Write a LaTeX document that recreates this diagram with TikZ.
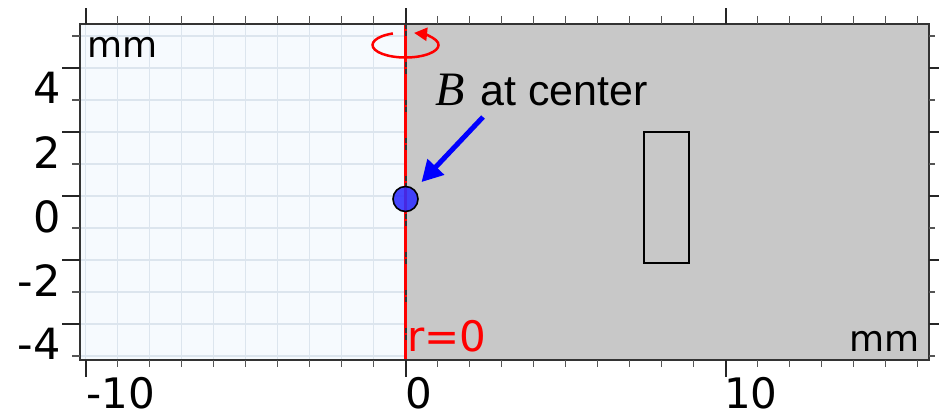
\documentclass[tikz,border=0pt]{standalone}
\usepackage{fontspec}
\setmainfont{DejaVu Sans}
\newfontfamily\arialfont{Liberation Sans}
\newfontfamily\serffont{Liberation Serif}
\usetikzlibrary{arrows.meta}
\definecolor{gridc}{HTML}{DCE5EE}
\definecolor{bgc}{HTML}{F6FAFE}
\definecolor{domc}{HTML}{C8C8C8}
\definecolor{framec}{HTML}{333333}
\definecolor{minorc}{HTML}{555555}
\definecolor{bluec}{HTML}{0000FF}
\definecolor{circc}{HTML}{2E2EFF}
\definecolor{redc}{HTML}{FF0000}
\begin{document}
\begin{tikzpicture}[x=1bp,y=-1bp,
  gridline/.style={draw=gridc, line width=1.3bp},
  framebox/.style={draw=framec, line width=2bp},
  majortick/.style={draw=black!85, line width=2bp},
  minortick/.style={draw=minorc, line width=1.1bp},
  axlab/.style={inner sep=0pt, font=\fontsize{43bp}{48bp}\selectfont},
  xlab/.style={inner sep=0pt, font=\fontsize{42bp}{46bp}\selectfont},
  unitlab/.style={inner sep=0pt, anchor=base west, font=\fontsize{36bp}{40bp}\selectfont},
  redlab/.style={inner sep=0pt, anchor=base west, text=redc, font=\fontsize{42bp}{46bp}\selectfont},
  bluearrow/.style={draw=bluec, line width=5bp, -{Triangle[length=21bp,width=22bp]}, shorten >=10bp},
  redarc/.style={draw=redc, line width=2.5bp, -{Triangle[length=13bp,width=13bp]}},
  bcirc/.style={circle, minimum size=25bp, inner sep=0pt, fill=circc, fill opacity=0.88, draw=black, draw opacity=1, line width=1.6bp},
  coil/.style={draw=black, line width=1.6bp}
]
\useasboundingbox (0,0) rectangle (939,417);
% left (light) region with grid
\fill[bgc] (80,23.5) rectangle (405.5,360);
\foreach \i in {1,...,10} \draw[gridline] ({405.5-32*\i},23.5) -- ({405.5-32*\i},360);
\foreach \j in {-5,...,5} \draw[gridline] (80,{196-32*\j}) -- (405.5,{196-32*\j});
% grey domain
\fill[domc] (405.5,23.5) rectangle (929,360);
% coil cross-section
\draw[coil] (644,132) rectangle (689,263);
% symmetry axis r=0
\draw[redc, line width=3bp] (405.5,23.5) -- (405.5,360);
\draw[black!80, line width=2bp, dash pattern=on 5bp off 2bp on 5bp off 26bp] (405.5,23.5) -- (405.5,360);
% rotation arrow
\draw[redarc] (392.9,33.45) arc[start angle=247.5, end angle=-75, x radius=33, y radius=12.5];
% frame
\draw[framebox] (80,23.5) rectangle (929,360);
% ticks top / bottom
\foreach \k in {-10,...,16} {
  \draw[minortick] ({405.5+32*\k},23.5) -- ({405.5+32*\k},16);
  \draw[minortick] ({405.5+32*\k},360) -- ({405.5+32*\k},367);
}
\foreach \k in {-10,0,10} {
  \draw[majortick] ({405.5+32*\k},23.5) -- ({405.5+32*\k},8);
  \draw[majortick] ({405.5+32*\k},360) -- ({405.5+32*\k},377);
}
% ticks left / right
\foreach \k in {-5,...,5} {
  \draw[minortick] (80,{196-32*\k}) -- (72,{196-32*\k});
  \draw[minortick] (929,{196-32*\k}) -- (935,{196-32*\k});
}
\foreach \k in {-4,-2,...,4} {
  \draw[majortick] (80,{196-32*\k}) -- (62,{196-32*\k});
  \draw[majortick] (929,{196-32*\k}) -- (939,{196-32*\k});
}
% axis labels
\node[axlab, anchor=north east] (y4) at (61,72) {4};
\node[axlab, anchor=north east] (y2) at (61,136) {2};
\node[axlab, anchor=north east] (y0) at (61,200) {0};
\node[axlab, anchor=north east] (ym2) at (61,264) {-2};
\node[axlab, anchor=north east] (ym4) at (61,328) {-4};
\node[xlab, anchor=north west] (xm10) at (86,377) {-10};
\node[xlab, anchor=north west] (x0) at (405,377) {0};
\node[xlab, anchor=north west] (x10) at (724,377) {10};
% unit labels
\node[unitlab] (mmtop) at (87,57) {mm};
\node[unitlab, anchor=base east] (mmbot) at (920,351) {mm};
\node[redlab] (rlab) at (407,351) {r=0};
% B at center
\node[inner sep=0pt, anchor=base west] (blabel) at (435,105)
  {{\serffont\itshape\fontsize{48bp}{50bp}\selectfont B}\hspace{16bp}{\arialfont\fontsize{43bp}{50bp}\selectfont at center}};
\node[bcirc] (circ) at (405.5,199) {};
\coordinate (arrstart) at (483,117);
\draw[bluearrow] (arrstart) -- (circ);
\end{tikzpicture}
\end{document}
